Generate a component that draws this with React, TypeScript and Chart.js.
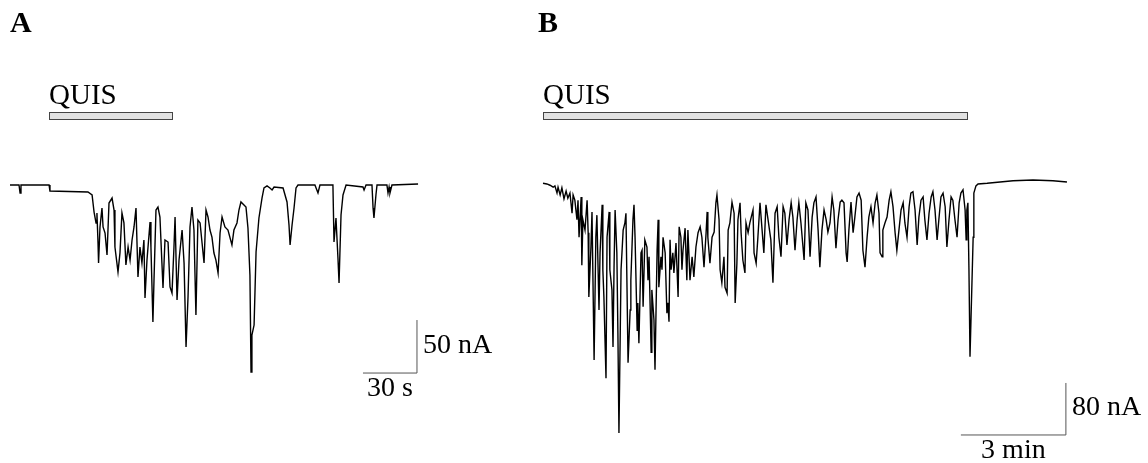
import React, { useEffect, useRef } from 'react';
import { Chart, registerables } from 'chart.js';

Chart.register(...registerables);

// ---------- Panel A (time in s, current in nA) ----------
const aTimeS = [
  0, 5, 5.6, 6.1, 21.7, 22.2, 43.3, 45.6, 46.7, 47.8, 48.3, 48.9, 49.2, 50, 51.1, 51.7, 52.8, 53.9, 55, 56.7,
  57.8, 58.3, 60, 61.1, 62.2, 63.3, 64.4, 65.6, 66.7, 67.8, 68.9, 70, 71.1, 72.2, 73.3, 74.4, 75, 76.1, 77.8, 78.3,
  79.4, 80, 81.1, 82.2, 83.3, 84.4, 85, 86.1, 87.8, 88.9, 90, 91.1, 91.7, 92.8, 93.9, 95.6, 96.7, 97.8, 98.9, 100,
  101.1, 102.2, 103.3, 104.4, 105.6, 106.7, 107.8, 108.9, 110, 111.1, 112.2, 113.3, 114.4, 115.6, 116.7, 117.8, 119.4, 121.1, 123.3, 124.4,
  126.1, 127.2, 128.3, 130, 131.1, 132.2, 133.3, 133.9, 134.4, 135.6, 136.7, 138.3, 140, 141.1, 142.8, 144.4, 145.6, 146.7, 151.7, 153.9,
  155, 155.6, 156.7, 157.8, 158.9, 160, 169.4, 171.1, 172.2, 179.4, 180, 181.1, 182.2, 182.8, 183.9, 185, 186.7, 196.1, 196.7, 197.8,
  201.1, 201.7, 202.2, 203.3, 203.9, 209.4, 210, 210.6, 211.1, 212.2, 226.7,
];
const aCurrentNA = [
  0, 0, -7.5, 0, 0, -5.7, -6.6, -9.4, -25.5, -35.8, -26.4, -54.7, -73.6, -39.6, -21.7, -39.6, -45.3, -66, -17, -12.3,
  -23.6, -58.5, -82, -64, -26.4, -35.8, -75.5, -58.5, -70.8, -51.9, -39.6, -21.7, -86.8, -58.5, -73.6, -51.9, -106.6, -70.8, -34.9, -58.5,
  -129.2, -89.6, -23.6, -20.8, -30.2, -73.6, -97.2, -51.9, -53.8, -96.2, -101.9, -58.5, -30.2, -108.5, -70.8, -42.5, -73.6, -152.8, -105.7, -39.6,
  -20.8, -42.5, -122.6, -33, -35.8, -54.7, -73.6, -23.6, -30.2, -42.5, -49.1, -64.2, -70.8, -83, -45.3, -30.2, -39.6, -42.5, -56.6, -42.5,
  -35.8, -23.6, -16, -18.9, -20.8, -40.6, -84.9, -176.4, -141.5, -132.1, -63.2, -31.1, -12.3, -2.8, -0.9, -2.8, -4.7, -1.9, -2.8, -16,
  -37.7, -56.6, -37.7, -21.7, -2.8, 0, 0, -7.5, 0, 0, -53.8, -31.1, -68.9, -92.5, -28.3, -9.4, 0, -1.9, -4.7, 0,
  0, -21.7, -31.1, -9.4, 0, 0, -7.5, -1.9, -7.5, 0, 0.9,
];
const aStimS = [21.7, 90.6];
const aScaleBar = { endTime: 226.1, level: -177.4, dt: 30, di: 50 };
const aScaleLabels = ['50 nA', '30 s'];

// ---------- Panel B (time in min, current in nA) ----------
const bTimeMin = [
  0, 0.11, 0.2, 0.29, 0.34, 0.4, 0.43, 0.49, 0.54, 0.6, 0.66, 0.71, 0.77, 0.83, 0.86, 0.91, 0.97, 1.0, 1.03, 1.09,
  1.11, 1.14, 1.2, 1.26, 1.29, 1.31, 1.37, 1.4, 1.46, 1.51, 1.54, 1.6, 1.63, 1.69, 1.71, 1.74, 1.8, 1.83, 1.89, 1.91,
  1.97, 2.0, 2.03, 2.06, 2.11, 2.14, 2.17, 2.23, 2.26, 2.29, 2.34, 2.37, 2.4, 2.43, 2.49, 2.51, 2.57, 2.6, 2.63, 2.69,
  2.71, 2.74, 2.8, 2.83, 2.86, 2.91, 2.97, 3.0, 3.03, 3.09, 3.11, 3.17, 3.2, 3.26, 3.29, 3.31, 3.37, 3.4, 3.43, 3.49,
  3.54, 3.57, 3.6, 3.63, 3.66, 3.71, 3.74, 3.8, 3.83, 3.86, 3.89, 3.94, 3.97, 4.0, 4.06, 4.11, 4.14, 4.2, 4.26, 4.31,
  4.37, 4.43, 4.49, 4.54, 4.6, 4.66, 4.69, 4.71, 4.77, 4.83, 4.89, 4.94, 4.97, 5.03, 5.06, 5.11, 5.17, 5.2, 5.26, 5.29,
  5.34, 5.4, 5.46, 5.49, 5.54, 5.57, 5.63, 5.66, 5.71, 5.77, 5.8, 5.86, 5.91, 6.0, 6.03, 6.09, 6.14, 6.2, 6.26, 6.31,
  6.37, 6.43, 6.51, 6.57, 6.63, 6.69, 6.74, 6.8, 6.86, 6.91, 6.97, 7.03, 7.09, 7.14, 7.2, 7.26, 7.31, 7.37, 7.46, 7.51,
  7.57, 7.63, 7.69, 7.74, 7.8, 7.86, 7.91, 7.97, 8.03, 8.09, 8.14, 8.2, 8.26, 8.31, 8.37, 8.43, 8.49, 8.54, 8.6, 8.66,
  8.69, 8.74, 8.8, 8.86, 8.91, 8.97, 9.03, 9.09, 9.14, 9.2, 9.26, 9.31, 9.37, 9.43, 9.49, 9.54, 9.6, 9.63, 9.69, 9.71,
  9.77, 9.83, 9.89, 9.94, 10.0, 10.06, 10.11, 10.17, 10.23, 10.29, 10.34, 10.4, 10.46, 10.51, 10.57, 10.63, 10.69, 10.74, 10.8, 10.86,
  10.91, 10.97, 11.03, 11.09, 11.14, 11.2, 11.26, 11.31, 11.37, 11.43, 11.49, 11.54, 11.6, 11.66, 11.71, 11.77, 11.83, 11.89, 11.94, 12.0,
  12.06, 12.09, 12.11, 12.14, 12.17, 12.2, 12.23, 12.29, 12.31, 12.37, 12.43, 12.69, 13.06, 13.43, 14.0, 14.57, 14.97,
];
const bCurrentNA = [
  -2, -3, -5, -8, -6, -17, -8, -20, -9, -26, -14, -25, -17, -48, -20, -28, -58, -28, -85, -23,
  -128, -58, -74, -28, -78, -177, -100, -46, -274, -85, -51, -197, -109, -35, -135, -177, -302, -85, -46, -135,
  -166, -254, -131, -43, -109, -232, -386, -135, -105, -74, -63, -48, -162, -278, -197, -151, -58, -35, -85, -228,
  -186, -248, -109, -105, -192, -89, -100, -151, -115, -262, -166, -212, -289, -105, -58, -162, -115, -135, -85, -109,
  -202, -186, -215, -89, -135, -109, -140, -94, -135, -177, -69, -85, -135, -105, -71, -151, -74, -151, -115, -146,
  -100, -78, -69, -85, -131, -78, -46, -85, -125, -85, -77, -32, -20, -58, -135, -155, -115, -162, -171, -74,
  -63, -31, -48, -186, -125, -58, -32, -78, -120, -140, -63, -78, -63, -43, -109, -125, -85, -32, -74, -109,
  -35, -58, -89, -155, -48, -38, -85, -115, -38, -48, -97, -58, -32, -54, -105, -58, -32, -63, -120, -32,
  -43, -115, -54, -32, -23, -74, -131, -74, -43, -58, -77, -63, -23, -43, -102, -58, -31, -28, -32, -109,
  -123, -74, -31, -78, -54, -23, -17, -28, -105, -131, -85, -54, -38, -63, -32, -20, -48, -109, -115, -74,
  -63, -54, -28, -15, -38, -78, -105, -74, -43, -32, -63, -85, -38, -17, -15, -43, -97, -54, -28, -23,
  -58, -89, -48, -23, -15, -43, -89, -58, -23, -17, -38, -100, -58, -23, -28, -58, -85, -32, -17, -12,
  -43, -89, -43, -32, -135, -269, -208, -85, -17, -6, -3, -2, 0, 2, 3, 2, 0,
];
const bStimMin = [0, 12.14];
const bScaleBar = { endTime: 14.94, level: -389.2, dt: 3, di: 80 };
const bScaleLabels = ['80 nA', '3 min'];

const stimLabel = 'QUIS';
const panelLetters = ['A', 'B'];

type ScaleBar = { endTime: number; level: number; dt: number; di: number };
type PanelProps = {
  left: number;
  width: number;
  height: number;
  time: number[];
  current: number[];
  xRange: [number, number];
  yRange: [number, number];
  stim: number[];
  scaleBar: ScaleBar;
  scaleLabels: string[];
  letter: string;
  letterX: number;
};

const SERIF = '"Liberation Serif", "Times New Roman", serif';

function TracePanel(p: PanelProps) {
  const ref = useRef<HTMLCanvasElement | null>(null);
  useEffect(() => {
    if (!ref.current) return;
    const pts = p.time.map((t, i) => ({ x: t, y: p.current[i] }));
    const sb = p.scaleBar;
    const sbPts = [
      { x: sb.endTime - sb.dt, y: sb.level },
      { x: sb.endTime, y: sb.level },
      { x: sb.endTime, y: sb.level + sb.di },
    ];
    const overlay = {
      id: 'overlay',
      afterDatasetsDraw(chart: any) {
        const ctx = chart.ctx as CanvasRenderingContext2D;
        const xs = chart.scales.x;
        const ys = chart.scales.y;
        ctx.save();
        // stimulus bar
        const x0 = Math.round(xs.getPixelForValue(p.stim[0]));
        const x1 = Math.round(xs.getPixelForValue(p.stim[1]));
        ctx.fillStyle = '#e2e2e2';
        ctx.fillRect(x0, 112, x1 - x0, 8);
        ctx.strokeStyle = '#444';
        ctx.lineWidth = 1;
        ctx.strokeRect(x0 + 0.5, 112.5, x1 - x0 - 1, 7);
        ctx.fillStyle = '#000';
        ctx.textBaseline = 'alphabetic';
        ctx.textAlign = 'left';
        ctx.font = `29px ${SERIF}`;
        ctx.fillText(stimLabel, x0, 104);
        // panel letter
        ctx.font = `bold 30px ${SERIF}`;
        ctx.fillText(p.letter, p.letterX, 32);
        // scale bar labels
        const cx = xs.getPixelForValue(sb.endTime);
        const cy = ys.getPixelForValue(sb.level);
        const ty = ys.getPixelForValue(sb.level + sb.di);
        const lx = xs.getPixelForValue(sb.endTime - sb.dt);
        ctx.font = `28px ${SERIF}`;
        ctx.fillText(p.scaleLabels[0], cx + 6, (cy + ty) / 2 + 6);
        ctx.textAlign = 'center';
        ctx.fillText(p.scaleLabels[1], (cx + lx) / 2, cy + 23);
        ctx.restore();
      },
    };
    const chart = new Chart(ref.current, {
      type: 'line',
      data: {
        datasets: [
          {
            data: pts,
            borderColor: '#000',
            borderWidth: 1.4,
            pointRadius: 0,
            tension: 0,
            fill: false,
          },
          {
            data: sbPts,
            borderColor: '#555',
            borderWidth: 1,
            pointRadius: 0,
            tension: 0,
            fill: false,
          },
        ],
      },
      options: {
        responsive: false,
        animation: false,
        parsing: true,
        layout: { padding: 0 },
        plugins: { legend: { display: false }, tooltip: { enabled: false }, title: { display: false } },
        scales: {
          x: { type: 'linear', display: false, min: p.xRange[0], max: p.xRange[1] },
          y: { type: 'linear', display: false, min: p.yRange[0], max: p.yRange[1] },
        },
      },
      plugins: [overlay],
    } as any);
    return () => chart.destroy();
  }, []);
  return (
    <canvas
      ref={ref}
      width={p.width}
      height={p.height}
      style={{ position: 'absolute', left: p.left, top: 0, width: p.width, height: p.height }}
    />
  );
}

export default function App() {
  return (
    <div style={{ position: 'fixed', left: 0, top: 0, width: 1148, height: 463, background: '#fff' }}>
      <TracePanel
        left={0}
        width={530}
        height={463}
        time={aTimeS}
        current={aCurrentNA}
        xRange={[-10 / 1.8, 520 / 1.8]}
        yRange={[-278 / 1.06, 185 / 1.06]}
        stim={aStimS}
        scaleBar={aScaleBar}
        scaleLabels={aScaleLabels}
        letter={panelLetters[0]}
        letterX={10}
      />
      <TracePanel
        left={530}
        width={618}
        height={463}
        time={bTimeMin}
        current={bCurrentNA}
        xRange={[-13 / 35, 605 / 35]}
        yRange={[-281 / 0.65, 182 / 0.65]}
        stim={bStimMin}
        scaleBar={bScaleBar}
        scaleLabels={bScaleLabels}
        letter={panelLetters[1]}
        letterX={8}
      />
    </div>
  );
}
